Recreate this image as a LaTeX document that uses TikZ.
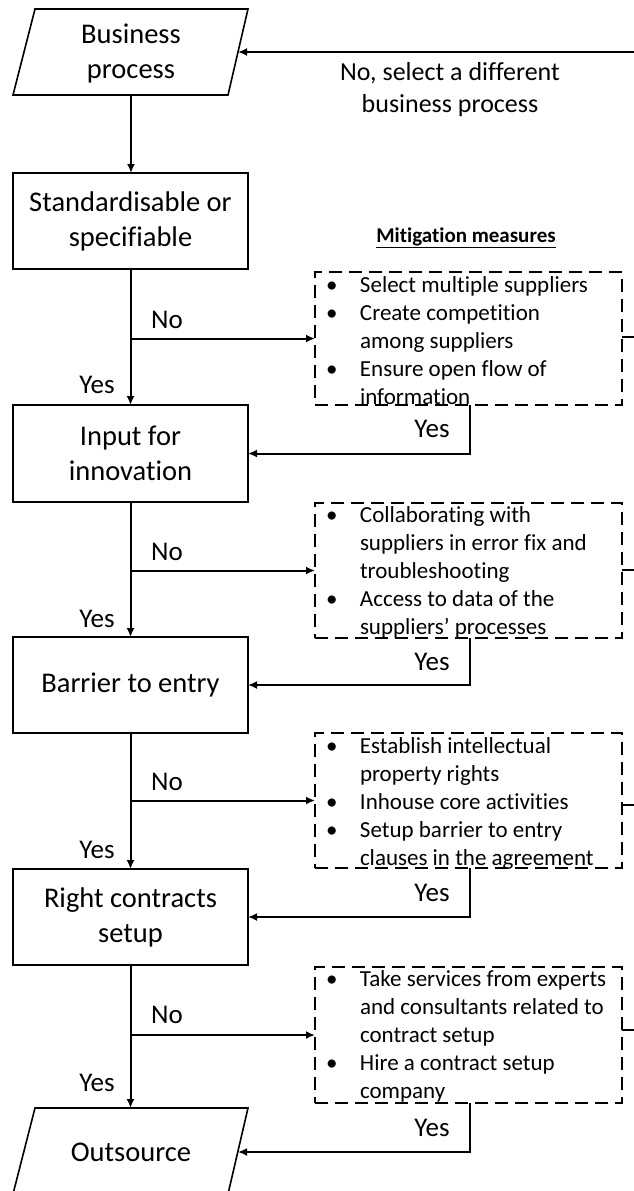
\documentclass[tikz,border=0pt]{standalone}
\usepackage{fontspec}
\setmainfont{Carlito}[Ligatures=NoCommon]
\usetikzlibrary{arrows.meta}
\begin{document}
\begin{tikzpicture}[x=1pt,y=-1pt,
  mainbox/.style={draw, line width=1.6pt, minimum width=235pt, minimum height=96pt,
    inner sep=0pt, outer sep=0pt, align=center, font=\fontsize{28.5}{35}\selectfont},
  mitbox/.style={draw, line width=2.2pt, dash pattern=on 13pt off 7pt,
    minimum width=307pt, inner sep=0pt, outer sep=0pt},
  mittext/.style={anchor=north west, inner sep=0pt, outer sep=0pt,
    font=\fontsize{23}{28}\selectfont},
  lbl/.style={inner sep=0pt, font=\fontsize{27}{32}\selectfont},
  conn/.style={line width=2pt},
  arr/.style={conn, -{Latex[length=9pt,width=8pt]}},
  shapeline/.style={line width=1.6pt, line join=miter}
]
\path[use as bounding box] (0,0) rectangle (634,1191);
\clip (0,0) rectangle (634,1191);

% Business process (parallelogram)
\draw[shapeline] (35,9) -- (248,9) -- (228,95) -- (13,95) -- cycle;
\node[align=center, inner sep=0pt, font=\fontsize{28.5}{35}\selectfont] (bp) at (131,53) {Business\\process};
\coordinate (bpS) at (131,95);
\coordinate (bpE) at (238,52);
\coordinate (tR) at (634,52);

% main boxes
\node[mainbox] (std) at (130.5,221) {Standardisable or\\specifiable};
\node[mainbox, minimum height=97pt] (inp) at (130.5,453.5) {Input for\\innovation};
\node[mainbox] (bar) at (130.5,685) {Barrier to entry};
\node[mainbox] (rcs) at (130.5,917) {Right contracts\\setup};

% Outsource (parallelogram)
\draw[shapeline] (35,1108) -- (248,1108) -- (228,1194) -- (13,1194) -- cycle;
\node[inner sep=0pt, font=\fontsize{28.5}{35}\selectfont] (os) at (131,1152) {Outsource};
\coordinate (osN) at (131,1108);
\coordinate (osE) at (238,1152);

% top text
\node[align=center, inner sep=0pt, font=\fontsize{26}{32}\selectfont] (nosel) at (450,90) {No, select a different\\business process};
\node[inner sep=0pt, font=\fontsize{21}{26}\selectfont\bfseries] (mt) at (466,238) {\underline{Mitigation measures}};

% mitigation boxes
\node[mitbox, minimum height=133pt] (mb1) at (468.5,338.5) {};
\node[mitbox, minimum height=135pt] (mb2) at (468.5,570.5) {};
\node[mitbox, minimum height=135pt] (mb3) at (468.5,800.5) {};
\node[mitbox, minimum height=136pt] (mb4) at (468.5,1035) {};

\node[mittext] (t1) at (326,272.5) {\begin{tabular}{@{}p{34pt}@{}l@{}}
\textbullet & Select multiple suppliers\\
\textbullet & Create competition\\
 & among suppliers\\
\textbullet & Ensure open flow of\\
 & information
\end{tabular}};
\node[mittext] (t2) at (326,503) {\begin{tabular}{@{}p{34pt}@{}l@{}}
\textbullet & Collaborating with\\
 & suppliers in error fix and\\
 & troubleshooting\\
\textbullet & Access to data of the\\
 & suppliers’ processes
\end{tabular}};
\node[mittext] (t3) at (326,734) {\begin{tabular}{@{}p{34pt}@{}l@{}}
\textbullet & Establish intellectual\\
 & property rights\\
\textbullet & Inhouse core activities\\
\textbullet & Setup barrier to entry\\
 & clauses in the agreement
\end{tabular}};
\node[mittext] (t4) at (326,967) {\begin{tabular}{@{}p{34pt}@{}l@{}}
\textbullet & Take services from experts\\
 & and consultants related to\\
 & contract setup\\
\textbullet & Hire a contract setup\\
 & company
\end{tabular}};

% labels
\node[lbl] (no1) at (167,320) {No};
\node[lbl] (no2) at (167,552) {No};
\node[lbl] (no3) at (167,782) {No};
\node[lbl] (no4) at (167,1015) {No};
\node[lbl] (ye1) at (97,385) {Yes};
\node[lbl] (ye2) at (97,619) {Yes};
\node[lbl] (ye3) at (97,850) {Yes};
\node[lbl] (ye4) at (97,1083) {Yes};
\node[lbl] (yr1) at (432,429) {Yes};
\node[lbl] (yr2) at (432,662) {Yes};
\node[lbl] (yr3) at (432,893) {Yes};
\node[lbl] (yr4) at (432,1128) {Yes};

% vertical flow
\draw[arr] (bpS) -- (bpS |- std.north);
\draw[arr] (std.south) -- (inp.north);
\draw[arr] (inp.south) -- (bar.north);
\draw[arr] (bar.south) -- (rcs.north);
\draw[arr] (rcs.south) -- (rcs.south |- osN);

% No branches
\draw[arr] (std.south |- mb1.west) -- (mb1.west);
\draw[arr] (inp.south |- mb2.west) -- (mb2.west);
\draw[arr] (bar.south |- mb3.west) -- (mb3.west);
\draw[arr] (rcs.south |- mb4.west) -- (mb4.west);

% Yes returns
\coordinate (xr) at (470,0);
\draw[arr] (mb1.south -| xr) |- (inp.east);
\draw[arr] (mb2.south -| xr) |- (bar.east);
\draw[arr] (mb3.south -| xr) |- (rcs.east);
\draw[arr] (mb4.south -| xr) |- (osE);

% right stubs
\coordinate (s1) at (634,337);
\coordinate (s2) at (634,570);
\coordinate (s3) at (634,805);
\coordinate (s4) at (634,1030);
\draw[conn] (mb1.east |- s1) -- (s1);
\draw[conn] (mb2.east |- s2) -- (s2);
\draw[conn] (mb3.east |- s3) -- (s3);
\draw[conn] (mb4.east |- s4) -- (s4);

% top return
\draw[arr, line width=2.5pt] (tR) -- (bpE);
\end{tikzpicture}
\end{document}
